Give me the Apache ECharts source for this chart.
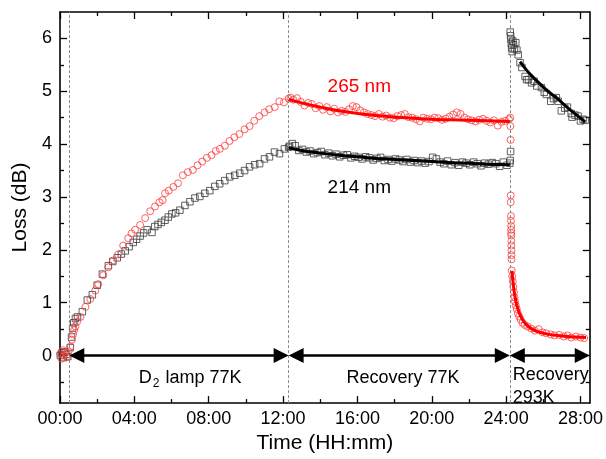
<!DOCTYPE html>
<html><head><meta charset="utf-8">
<script src="https://cdn.jsdelivr.net/npm/echarts@6/dist/echarts.min.js"></script>
<style>html,body{margin:0;padding:0;background:#fff}#chart{width:606px;height:459px}</style>
</head><body><div id="chart"></div>
<script>
const FONT = '"Liberation Sans", Arial, Helvetica, sans-serif';

// Axis ranges (time in hours, loss in dB) and tick positions
const timeMin = 0, timeMax = 28.5;
const lossMin = -0.9, lossMax = 6.5;
const timeMajorTicks = [0, 4, 8, 12, 16, 20, 24, 28];
const timeMinorTicks = [2, 6, 10, 14, 18, 22, 26];
const lossMajorTicks = [0, 1, 2, 3, 4, 5, 6];
const lossMinorTicks = [-0.5, 0.5, 1.5, 2.5, 3.5, 4.5, 5.5];

// 265 nm loss: D2 lamp exposure at 77 K
const loss265Exposure = [[0.00,0.03],[0.08,-0.06],[0.15,0.10],[0.22,0.00],[0.30,0.06],[0.38,-0.03],[0.46,0.08],[0.56,0.17],[0.64,0.30],[0.70,0.40],[0.76,0.48],[0.83,0.55],[0.92,0.64],[1.10,0.73],[1.37,0.92],[1.63,1.07],[1.90,1.23],[2.06,1.35],[2.33,1.52],[2.60,1.67],[2.86,1.80],[3.13,1.91],[3.40,2.08],[3.67,2.22],[3.85,2.31],[4.04,2.38],[4.31,2.47],[4.58,2.60],[4.85,2.73],[5.11,2.82],[5.35,2.90],[5.52,2.94],[5.65,3.07],[5.85,3.12],[6.10,3.19],[6.35,3.26],[6.61,3.41],[6.88,3.47],[7.15,3.51],[7.40,3.60],[7.65,3.67],[7.90,3.74],[8.15,3.79],[8.38,3.87],[8.60,3.91],[8.87,3.97],[9.12,4.06],[9.38,4.13],[9.65,4.19],[9.93,4.28],[10.20,4.34],[10.45,4.44],[10.72,4.53],[11.00,4.60],[11.25,4.66],[11.55,4.70],[11.80,4.81],[12.05,4.79],[12.30,4.86]];
// 265 nm loss: recovery at 77 K
const loss265Recovery77 = [[12.40,4.88],[12.55,4.84],[12.75,4.87],[12.95,4.80],[13.15,4.73],[13.35,4.78],[13.55,4.76],[13.75,4.68],[13.95,4.72],[14.15,4.65],[14.35,4.70],[14.55,4.62],[14.75,4.67],[14.95,4.60],[15.15,4.63],[15.35,4.61],[15.55,4.66],[15.75,4.72],[15.95,4.70],[16.15,4.64],[16.35,4.60],[16.55,4.57],[16.75,4.55],[16.95,4.53],[17.15,4.57],[17.35,4.52],[17.55,4.54],[17.75,4.50],[17.95,4.49],[18.15,4.53],[18.35,4.55],[18.55,4.57],[18.75,4.51],[18.95,4.50],[19.15,4.47],[19.35,4.43],[19.55,4.50],[19.75,4.48],[19.95,4.47],[20.15,4.50],[20.35,4.49],[20.55,4.46],[20.75,4.48],[20.95,4.52],[21.15,4.56],[21.35,4.60],[21.55,4.57],[21.75,4.50],[21.95,4.47],[22.15,4.45],[22.35,4.43],[22.55,4.46],[22.75,4.48],[22.95,4.44],[23.15,4.41],[23.35,4.45],[23.55,4.35],[23.75,4.42],[23.95,4.44],[24.15,4.47]];
// 265 nm loss: warm-up and recovery at 293 K
const loss265Recovery293 = [[24.22,4.50],[24.23,4.34],[24.24,4.08],[24.25,3.03],[24.25,2.90],[24.26,2.64],[24.26,2.55],[24.27,2.45],[24.27,2.38],[24.27,2.32],[24.28,2.27],[24.28,2.17],[24.28,2.08],[24.29,1.99],[24.29,1.90],[24.29,1.82],[24.30,1.61],[24.33,1.50],[24.36,1.40],[24.39,1.30],[24.42,1.20],[24.45,1.10],[24.48,1.02],[24.52,0.95],[24.57,0.88],[24.63,0.80],[24.70,0.74],[24.78,0.68],[24.88,0.62],[25.00,0.58],[25.15,0.55],[25.35,0.51],[25.55,0.47],[25.75,0.50],[25.95,0.44],[26.15,0.42],[26.40,0.40],[26.60,0.38],[26.85,0.39],[27.10,0.36],[27.30,0.38],[27.50,0.34],[27.75,0.36],[28.00,0.34],[28.20,0.33]];

// 214 nm loss: D2 lamp exposure at 77 K
const loss214Exposure = [[0.02,0.00],[0.10,0.05],[0.18,-0.04],[0.26,0.07],[0.34,0.02],[0.42,-0.02],[0.55,0.15],[0.62,0.35],[0.68,0.52],[0.74,0.62],[0.83,0.70],[0.94,0.73],[1.20,0.83],[1.47,1.05],[1.74,1.15],[2.00,1.33],[2.28,1.54],[2.60,1.70],[2.84,1.78],[3.08,1.85],[3.30,1.92],[3.51,1.98],[3.72,2.06],[3.94,2.14],[4.12,2.20],[4.31,2.26],[4.50,2.32],[4.69,2.38],[4.95,2.33],[5.10,2.44],[5.27,2.48],[5.45,2.52],[5.65,2.56],[5.83,2.62],[6.02,2.68],[6.22,2.70],[6.45,2.75],[6.72,2.84],[6.99,2.91],[7.26,2.98],[7.52,3.01],[7.79,3.07],[8.06,3.12],[8.33,3.20],[8.59,3.25],[8.86,3.31],[9.13,3.38],[9.40,3.41],[9.67,3.45],[9.93,3.50],[10.20,3.57],[10.47,3.61],[10.74,3.63],[11.00,3.72],[11.27,3.76],[11.54,3.85],[11.81,3.82],[12.07,3.91],[12.30,3.94]];
// 214 nm loss: recovery at 77 K
const loss214Recovery77 = [[12.35,3.96],[12.50,4.01],[12.65,3.97],[12.85,3.88],[13.05,3.90],[13.25,3.85],[13.45,3.87],[13.65,3.82],[13.85,3.84],[14.05,3.86],[14.25,3.80],[14.45,3.83],[14.65,3.78],[14.85,3.81],[15.05,3.76],[15.25,3.79],[15.45,3.80],[15.65,3.74],[15.85,3.77],[16.05,3.75],[16.25,3.72],[16.45,3.76],[16.65,3.74],[16.85,3.70],[17.05,3.73],[17.25,3.75],[17.45,3.69],[17.65,3.71],[17.85,3.68],[18.05,3.72],[18.25,3.70],[18.45,3.67],[18.65,3.71],[18.85,3.66],[19.05,3.69],[19.25,3.65],[19.45,3.68],[19.65,3.64],[19.85,3.67],[20.05,3.75],[20.25,3.72],[20.45,3.66],[20.65,3.63],[20.85,3.68],[21.05,3.61],[21.25,3.65],[21.45,3.60],[21.65,3.66],[21.85,3.64],[22.05,3.61],[22.25,3.66],[22.45,3.63],[22.65,3.59],[22.85,3.64],[23.05,3.62],[23.25,3.65],[23.45,3.63],[23.65,3.58],[23.85,3.66],[24.05,3.60],[24.20,3.64],[24.22,3.69],[24.24,3.86]];
// 214 nm loss: warm-up and recovery at 293 K
const loss214Recovery293 = [[24.22,6.12],[24.24,6.05],[24.26,5.98],[24.28,5.90],[24.30,5.82],[24.33,5.75],[24.36,5.95],[24.40,5.88],[24.45,5.80],[24.52,5.92],[24.58,5.78],[24.65,5.69],[24.75,5.54],[24.85,5.45],[25.02,5.28],[25.10,5.22],[25.20,5.22],[25.37,5.16],[25.50,5.19],[25.65,5.10],[25.90,5.07],[26.05,4.98],[26.17,4.94],[26.40,4.81],[26.55,4.86],[26.70,4.88],[26.80,4.81],[26.97,4.63],[27.15,4.68],[27.30,4.70],[27.50,4.58],[27.55,4.51],[27.70,4.55],[27.87,4.53],[28.00,4.44],[28.14,4.47],[28.25,4.45]];

// Fitted recovery curves
const fit265Recovery77 = [[12.3,4.85],[13,4.78],[14,4.70],[15,4.63],[16,4.58],[17,4.54],[18,4.51],[19,4.49],[20,4.47],[21,4.46],[22,4.45],[23,4.44],[24.2,4.43]];
const fit214Recovery77 = [[12.3,3.93],[13,3.88],[14,3.83],[15,3.79],[16,3.76],[17,3.73],[18,3.71],[19,3.69],[20,3.67],[21,3.65],[22,3.64],[23,3.62],[24.2,3.61]];
const fit265Recovery293 = [[24.32,1.60],[24.4,1.30],[24.5,1.07],[24.6,0.92],[24.75,0.77],[24.9,0.67],[25.1,0.58],[25.4,0.50],[25.8,0.44],[26.3,0.40],[27.0,0.37],[27.7,0.35],[28.3,0.34]];
const fit214Recovery293 = [[24.75,5.56],[25.1,5.40],[25.5,5.25],[26.0,5.08],[26.4,4.96],[26.9,4.82],[27.3,4.69],[27.8,4.55],[28.25,4.42]];

// Phase boundaries and the spans between them (hours)
const phaseBoundaries = [0.5, 12.3, 24.2];
const phaseSpans = [[0.5, 12.3], [12.3, 24.2], [24.2, 28.5]];

// Text annotations placed in data coordinates
const annotations = [
  { at: [16.1, 5.08], text: '265 nm', color: '#ff0000', size: 19, align: 'center' },
  { at: [16.1, 3.17], text: '214 nm', color: '#000000', size: 19, align: 'center' },
  { at: [7.0, -0.42], text: '{n|D}{s|2}{n| lamp 77K}', color: '#000000', size: 18, align: 'center' },
  { at: [18.45, -0.42], text: 'Recovery 77K', color: '#000000', size: 18, align: 'center' },
  { at: [24.35, -0.58], text: 'Recovery\n293K', color: '#000000', size: 18, align: 'left' }
];

const pad2 = v => (v < 10 ? '0' : '') + v;

function timeAxis(position, ticks, len, main) {
  return {
    type: 'value', position, min: timeMin, max: timeMax,
    splitLine: { show: false },
    axisLine: { show: main, onZero: false, lineStyle: { color: '#000', width: 1.6 } },
    axisTick: { show: true, inside: true, length: len, customValues: ticks, lineStyle: { color: '#000', width: 1.3 } },
    axisLabel: (main && position === 'bottom') ? {
      show: true, customValues: timeMajorTicks, margin: 7, color: '#000', fontSize: 18, fontFamily: FONT,
      formatter: v => pad2(Math.round(v)) + ':00'
    } : { show: false },
    name: (main && position === 'bottom') ? 'Time (HH:mm)' : '',
    nameLocation: 'middle', nameGap: 29,
    nameTextStyle: { color: '#000', fontSize: 21, fontFamily: FONT }
  };
}
function lossAxis(position, ticks, len, main) {
  return {
    type: 'value', position, min: lossMin, max: lossMax,
    splitLine: { show: false },
    axisLine: { show: main, onZero: false, lineStyle: { color: '#000', width: 1.6 } },
    axisTick: { show: true, inside: true, length: len, customValues: ticks, lineStyle: { color: '#000', width: 1.3 } },
    axisLabel: (main && position === 'left') ? {
      show: true, customValues: lossMajorTicks, margin: 8, color: '#000', fontSize: 18, fontFamily: FONT
    } : { show: false },
    name: (main && position === 'left') ? 'Loss (dB)' : '',
    nameLocation: 'middle', nameGap: 26, nameRotate: 90,
    nameTextStyle: { color: '#000', fontSize: 21, fontFamily: FONT }
  };
}

const redPoint = { color: 'rgba(0,0,0,0)', borderColor: '#ff3c3c', borderWidth: 1 };
const blackPoint = { color: 'rgba(0,0,0,0)', borderColor: '#3a3a3a', borderWidth: 1 };

function scatter(data, symbol, size, style, extra) {
  return Object.assign({ type: 'scatter', data, symbol, symbolSize: size, itemStyle: style, silent: true, animation: false }, extra || {});
}
function fitLine(data, color) {
  return { type: 'line', data, smooth: true, showSymbol: false, symbol: 'none', silent: true, animation: false, z: 5,
           lineStyle: { color, width: 3 } };
}

const option = {
  animation: false,
  grid: { left: 60, right: 15, top: 12, bottom: 52, containLabel: false },
  xAxis: [
    timeAxis('bottom', timeMajorTicks, 7, true),
    timeAxis('bottom', timeMinorTicks, 4, false),
    timeAxis('top', timeMajorTicks, 7, true),
    timeAxis('top', timeMinorTicks, 4, false)
  ],
  yAxis: [
    lossAxis('left', lossMajorTicks, 7, true),
    lossAxis('left', lossMinorTicks, 4, false),
    lossAxis('right', lossMajorTicks, 7, true),
    lossAxis('right', lossMinorTicks, 4, false)
  ],
  series: [
    scatter(loss214Exposure.concat(loss214Recovery77, loss214Recovery293), 'rect', 6.5, blackPoint, {
      markLine: {
        silent: true, symbol: 'none', animation: false,
        label: { show: false },
        lineStyle: { color: '#8a8a8a', width: 1, type: [3, 2] },
        data: phaseBoundaries.map(v => ({ xAxis: v }))
      }
    }),
    scatter(loss265Exposure.concat(loss265Recovery77, loss265Recovery293), 'circle', 7, redPoint),
    fitLine(fit265Recovery77, '#ff0000'),
    fitLine(fit214Recovery77, '#000000'),
    fitLine(fit265Recovery293, '#ff0000'),
    fitLine(fit214Recovery293, '#000000'),
    {
      type: 'custom', silent: true, animation: false, z: 6,
      data: phaseSpans,
      encode: { x: [0, 1] },
      renderItem(params, api) {
        const a = api.coord([api.value(0), 0]);
        const b = api.coord([api.value(1), 0]);
        const L = 15, H = 7.5;
        return { type: 'group', children: [
          { type: 'line', shape: { x1: a[0] + L - 1, y1: a[1], x2: b[0] - L + 1, y2: b[1] }, style: { stroke: '#000', lineWidth: 2.5 } },
          { type: 'polygon', shape: { points: [[a[0], a[1]], [a[0] + L, a[1] - H], [a[0] + L, a[1] + H]] }, style: { fill: '#000' } },
          { type: 'polygon', shape: { points: [[b[0], b[1]], [b[0] - L, b[1] - H], [b[0] - L, b[1] + H]] }, style: { fill: '#000' } }
        ] };
      }
    },
    {
      type: 'custom', silent: true, animation: false, z: 7,
      data: annotations.map(a => a.at),
      renderItem(params, api) {
        const a = annotations[params.dataIndex];
        const p = api.coord([api.value(0), api.value(1)]);
        return {
          type: 'text', x: p[0], y: p[1],
          style: {
            text: a.text, fill: a.color, fontSize: a.size, fontFamily: FONT,
            align: a.align, verticalAlign: 'middle', lineHeight: 23,
            rich: {
              n: { fontSize: a.size, fontFamily: FONT, fill: a.color, lineHeight: 23 },
              s: { fontSize: 12, fontFamily: FONT, fill: a.color, padding: [12, 1, 0, 1], lineHeight: 23 }
            }
          }
        };
      }
    }
  ]
};

const chart = echarts.init(document.getElementById('chart'), null, { renderer: 'canvas' });
chart.setOption(option);
</script>
</body></html>
